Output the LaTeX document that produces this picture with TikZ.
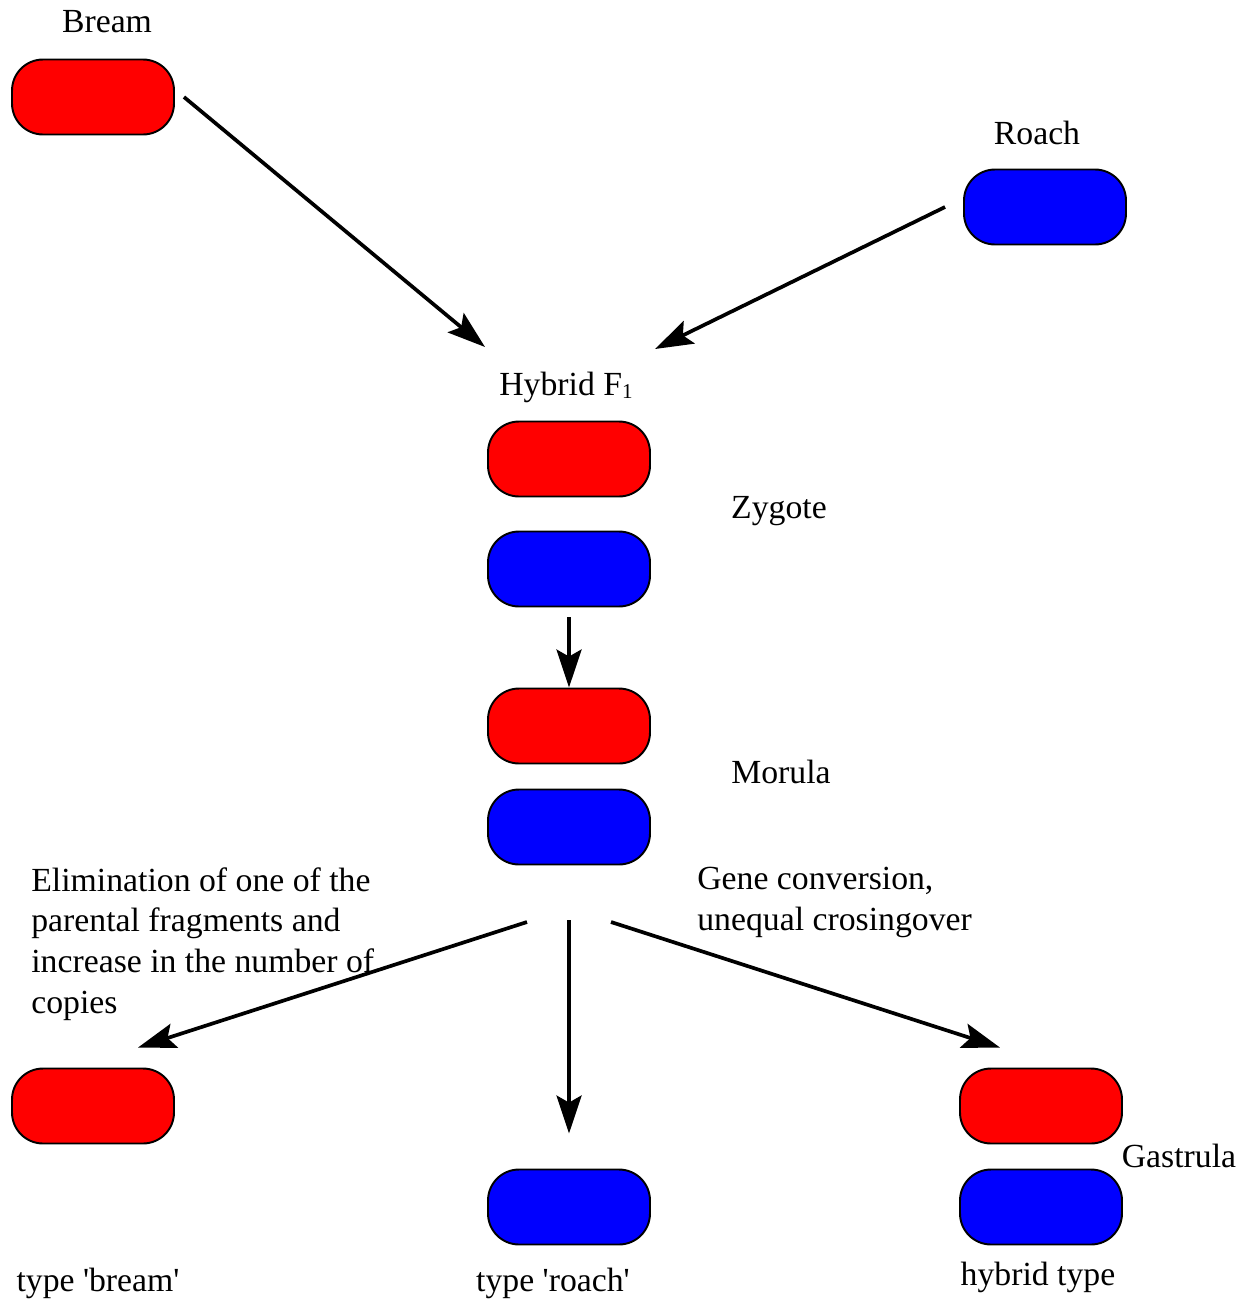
\documentclass[tikz,border=0pt]{standalone}
\usepackage{fontspec}
\setmainfont{Liberation Serif}
\usetikzlibrary{arrows.meta}

\begin{document}
\begin{tikzpicture}[x=0.02cm,y=-0.02cm,
    >={Stealth[length=0.76cm,width=0.5cm,inset=0.14cm]},
    chrom/.style = {
      draw,
      line width = 1.1pt,
      rounded corners = 0.62cm,
      inner sep = 0pt,
      minimum width = 3.24cm,
      minimum height = 1.5cm
    },
    redchrom/.style = {chrom, fill = red},
    bluechrom/.style = {chrom, fill = blue},
    lbl/.style = {
      inner sep = 0pt,
      font = \fontsize{19.2}{23.2}\selectfont
    },
    link/.style = {->, line width = 2.1pt}
  ]
  \useasboundingbox (0,0) rectangle (1254,1306);

  % parents
  \node[redchrom] (bream) at (93,97) {};
  \node[lbl] (bream-lbl) at (107,22) {Bream};
  \node[bluechrom] (roach) at (1045,207) {};
  \node[lbl] (roach-lbl) at (1037,133) {Roach};

  % zygote
  \node[lbl] (hybrid-lbl) at (566,387)
    {Hybrid F\raisebox{-0.25ex}{\fontsize{12}{12}\selectfont 1}};
  \node[redchrom] (zyg-r) at (569,459) {};
  \node[bluechrom] (zyg-b) at (569,569) {};
  \node[lbl] (zyg-lbl) at (779,511) {Zygote};

  % morula
  \node[redchrom] (mor-r) at (569,726) {};
  \node[bluechrom] (mor-b) at (569,827) {};
  \node[lbl] (mor-lbl) at (781,772) {Morula};

  \node[lbl,anchor=north west,align=left] (elim) at (31,867)
    {Elimination of one of the\\parental fragments and\\increase in the number of\\copies};
  \node[lbl,anchor=north west,align=left] (conv) at (697,867)
    {Gene conversion,\\unequal crosingover};

  % gastrula
  \node[redchrom] (gbream) at (93,1106) {};
  \node[lbl] (gbream-lbl) at (98,1283) {type \textquotesingle bream\textquotesingle};
  \node[bluechrom] (groach) at (569,1207) {};
  \node[lbl] (groach-lbl) at (553,1283) {type \textquotesingle roach\textquotesingle};
  \node[redchrom] (ghyb-r) at (1041,1106) {};
  \node[bluechrom] (ghyb-b) at (1041,1207) {};
  \node[lbl] (ghyb-lbl) at (1038,1277) {hybrid type};
  \node[lbl] (gas-lbl) at (1179,1156) {Gastrula};

  % arrow ends
  \coordinate (b-in) at (485,347);
  \coordinate (r-in) at (655,349);
  \coordinate (split) at (569,920);

  \draw[link] (bream.east) ++(9,0) -- (b-in);
  \draw[link] (roach.west) ++(-18,0) -- (r-in);
  \draw[link] (zyg-b.south) ++(0,10) -- (mor-r.north);
  \draw[link] (split) ++(-42,2) -- ([shift={(45,-20)}]gbream.north);
  \draw[link] (split) -- ([shift={(0,-35)}]groach.north);
  \draw[link] (split) ++(42,2) -- ([shift={(-41,-20)}]ghyb-r.north);
\end{tikzpicture}
\end{document}
